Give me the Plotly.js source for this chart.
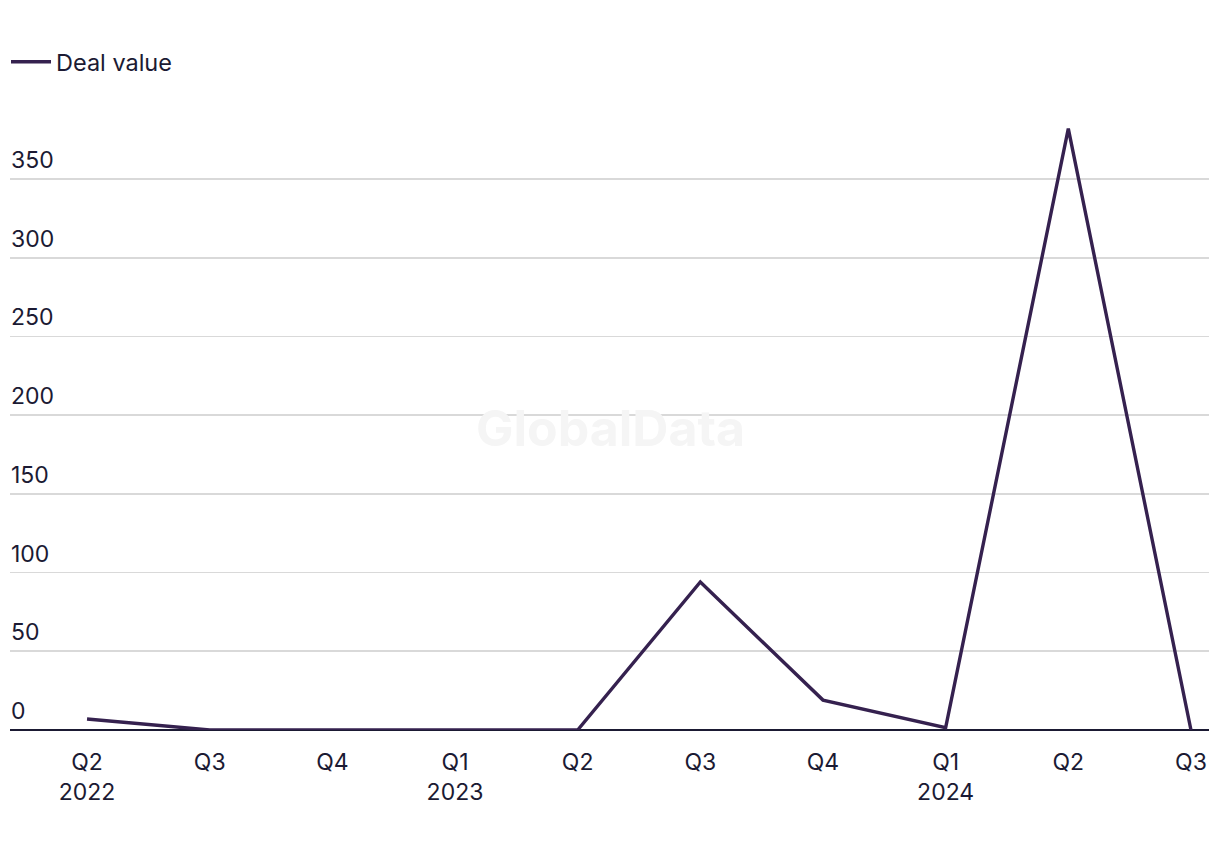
<!DOCTYPE html>
<html>
<head>
<meta charset="utf-8">
<script src="https://cdn.plot.ly/plotly-3.0.1.min.js"></script>
<style>
html,body{margin:0;padding:0;background:#fff;}
#chart{width:1220px;height:850px;}
</style>
</head>
<body>
<div id="chart"></div>
<script>
const categories = ["Q2<br>2022","Q3","Q4","Q1<br>2023","Q2","Q3","Q4","Q1<br>2024","Q2","Q3"];
const dealValue = [7, 0, 0, 0, 0, 94, 19, 1.5, 382, 0];
const yTicks = [0, 50, 100, 150, 200, 250, 300, 350];

const idx = categories.map((_, i) => i);
const fontFam = "Inter, 'Liberation Sans', Arial, sans-serif";
const textColor = "#1b1a33";

const trace = {
  x: idx,
  y: dealValue,
  type: "scatter",
  mode: "lines",
  name: "Deal value",
  line: {color: "#35214f", width: 3.4},
  hoverinfo: "x+y"
};

const plotW = 1220 - 0 - 11;

const layout = {
  width: 1220,
  height: 850,
  paper_bgcolor: "#ffffff",
  plot_bgcolor: "#ffffff",
  margin: {l: 0, r: 11, t: 100, b: 120, autoexpand: false},
  showlegend: true,
  legend: {
    orientation: "h",
    x: 6/plotW, xanchor: "left",
    y: 1.0 + 38/630, yanchor: "middle",
    font: {family: fontFam, size: 23.5, color: textColor},
    itemwidth: 40
  },
  font: {family: fontFam, size: 23, color: textColor},
  xaxis: {
    domain: [10/plotW, 1],
    range: [-0.628, 9.147],
    tickvals: idx,
    ticktext: categories,
    showgrid: false,
    zeroline: false,
    showline: false,
    ticks: "",
    ticklabelstandoff: 16,
    tickfont: {family: fontFam, size: 23, color: textColor},
    fixedrange: true
  },
  yaxis: {
    range: [0, 400.2],
    tickvals: yTicks,
    ticktext: yTicks.map(String),
    ticklabelposition: "inside top",
    ticklabelstandoff: -2,
    ticklabelshift: -3,
    showgrid: true,
    gridcolor: "#d9d9d9",
    gridwidth: 1.8,
    zeroline: true,
    zerolinecolor: "#1b1a33",
    zerolinewidth: 2.2,
    showline: false,
    ticks: "",
    tickfont: {family: fontFam, size: 23, color: textColor},
    fixedrange: true
  },
  annotations: [{
    text: "<b>GlobalData</b>",
    xref: "paper", yref: "paper",
    x: 610/plotW, y: (730-428)/630,
    xanchor: "center", yanchor: "middle",
    showarrow: false,
    font: {family: fontFam, size: 50, color: "#f5f5f5"}
  }]
};

Plotly.newPlot("chart", [trace], layout, {displayModeBar: false, staticPlot: true});
</script>
</body>
</html>
